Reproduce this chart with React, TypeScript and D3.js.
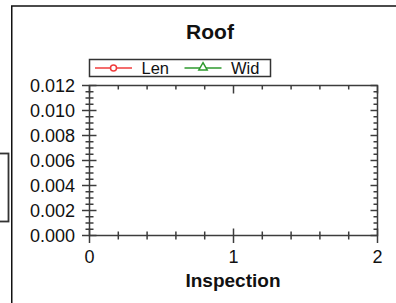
import React, { useEffect, useRef } from "react";
import * as d3 from "d3";

const xMajorTicks = [0, 1, 2];
const yMajorTicks = [0, 0.002, 0.004, 0.006, 0.008, 0.01, 0.012];
const lenValues: { x: number; y: number }[] = [];
const widValues: { x: number; y: number }[] = [];
const seriesNames = ["Len", "Wid"];
const seriesColors = ["#f03c3c", "#2e9a2e"];

const App = () => {
  const ref = useRef<HTMLDivElement>(null);

  useEffect(() => {
    d3.select(ref.current).select("svg").remove();
    const W = 396,
      H = 303;
    const svg = d3
      .select(ref.current)
      .append("svg")
      .attr("width", W)
      .attr("height", H)
      .style("position", "absolute")
      .style("left", "0px")
      .style("top", "0px")
      .style("font-family", "'Liberation Sans', Arial, sans-serif");

    svg.append("rect").attr("width", W).attr("height", H).attr("fill", "#fff");

    // outer frame + little box on the left
    svg
      .append("path")
      .attr("d", "M11.75,310V6H400")
      .attr("fill", "none")
      .attr("stroke", "#111")
      .attr("stroke-width", 1.5);
    svg
      .append("rect")
      .attr("x", -5)
      .attr("y", 153.5)
      .attr("width", 13.5)
      .attr("height", 68)
      .attr("fill", "none")
      .attr("stroke", "#333")
      .attr("stroke-width", 1.8);

    const x = d3.scaleLinear().domain([0, 2]).range([89.5, 377.5]);
    const y = d3.scaleLinear().domain([0, 0.012]).range([235.5, 85.5]);
    const axisColor = "#3c3c3c";

    const xMinor = d3.range(0, 2.0001, 0.2);
    const yMinor = d3.range(0, 0.0120001, 0.0005);

    const g = svg.append("g").attr("stroke", axisColor).attr("stroke-width", 1.5);

    // frame of the plot
    g.append("rect")
      .attr("x", x(0))
      .attr("y", y(0.012))
      .attr("width", x(2) - x(0))
      .attr("height", y(0) - y(0.012))
      .attr("fill", "none");

    const isMajorX = (v: number) => Math.abs(v - Math.round(v)) < 1e-6;
    const isMajorY = (v: number) =>
      Math.abs(v / 0.002 - Math.round(v / 0.002)) < 1e-6;

    // bottom ticks (cross)
    g.selectAll(".xb")
      .data(xMinor)
      .join("line")
      .attr("x1", (d) => x(d))
      .attr("x2", (d) => x(d))
      .attr("y1", (d) => y(0) - (isMajorX(d) ? 7 : 4))
      .attr("y2", (d) => y(0) + (isMajorX(d) ? 7.5 : 4));
    // top ticks (inward)
    g.selectAll(".xt")
      .data(xMinor)
      .join("line")
      .attr("x1", (d) => x(d))
      .attr("x2", (d) => x(d))
      .attr("y1", y(0.012))
      .attr("y2", (d) => y(0.012) + (isMajorX(d) ? 8 : 4));
    // left ticks (cross)
    g.selectAll(".yl")
      .data(yMinor)
      .join("line")
      .attr("y1", (d) => y(d))
      .attr("y2", (d) => y(d))
      .attr("x1", (d) => x(0) - (isMajorY(d) ? 7.5 : 4))
      .attr("x2", (d) => x(0) + (isMajorY(d) ? 7 : 4));
    // right ticks (inward)
    g.selectAll(".yr")
      .data(yMinor)
      .join("line")
      .attr("y1", (d) => y(d))
      .attr("y2", (d) => y(d))
      .attr("x1", x(2))
      .attr("x2", (d) => x(2) - (isMajorY(d) ? 7 : 4));

    // tick labels
    svg
      .append("g")
      .selectAll("text")
      .data(yMajorTicks)
      .join("text")
      .attr("x", 75)
      .attr("y", (d) => y(d) + 6.3)
      .attr("text-anchor", "end")
      .attr("font-size", 18)
      .attr("fill", "#111")
      .text((d) => d3.format(".3f")(d));
    svg
      .append("g")
      .selectAll("text")
      .data(xMajorTicks)
      .join("text")
      .attr("x", (d) => x(d))
      .attr("y", 262.7)
      .attr("text-anchor", "middle")
      .attr("font-size", 18)
      .attr("fill", "#111")
      .text((d) => String(d));

    // series (empty)
    const line = d3
      .line<{ x: number; y: number }>()
      .x((d) => x(d.x))
      .y((d) => y(d.y));
    [lenValues, widValues].forEach((vals, i) => {
      svg
        .append("path")
        .datum(vals)
        .attr("fill", "none")
        .attr("stroke", seriesColors[i])
        .attr("d", line);
    });

    // title + axis title
    svg
      .append("text")
      .attr("x", 210)
      .attr("y", 38.5)
      .attr("text-anchor", "middle")
      .attr("font-size", 21)
      .attr("font-weight", "bold")
      .attr("fill", "#111")
      .text("Roof");
    svg
      .append("text")
      .attr("x", 233)
      .attr("y", 286.5)
      .attr("text-anchor", "middle")
      .attr("font-size", 19)
      .attr("font-weight", "bold")
      .attr("fill", "#111")
      .text("Inspection");

    // legend
    const lg = svg.append("g");
    lg.append("rect")
      .attr("x", 89.5)
      .attr("y", 59.5)
      .attr("width", 181)
      .attr("height", 17)
      .attr("fill", "#fff")
      .attr("stroke", "#333")
      .attr("stroke-width", 1.5);
    const starts = [95, 184.5];
    seriesNames.forEach((name, i) => {
      const sx = starts[i];
      const c = seriesColors[i];
      lg.append("line")
        .attr("x1", sx)
        .attr("x2", sx + 37)
        .attr("y1", 68)
        .attr("y2", 68)
        .attr("stroke", c)
        .attr("stroke-width", 1.5);
      if (i === 0) {
        lg.append("circle")
          .attr("cx", sx + 18.5)
          .attr("cy", 68)
          .attr("r", 3)
          .attr("fill", "#fff")
          .attr("stroke", c)
          .attr("stroke-width", 1.5);
      } else {
        lg.append("path")
          .attr("d", d3.symbol(d3.symbolTriangle, 30)())
          .attr("transform", `translate(${sx + 18.5},67.5)`)
          .attr("fill", "#fff")
          .attr("stroke", c)
          .attr("stroke-width", 1.5);
      }
      lg.append("text")
        .attr("x", sx + 46.5)
        .attr("y", 74)
        .attr("font-size", 16.5)
        .attr("fill", "#111")
        .text(name);
    });
  }, []);

  return <div ref={ref} />;
};

export default App;
